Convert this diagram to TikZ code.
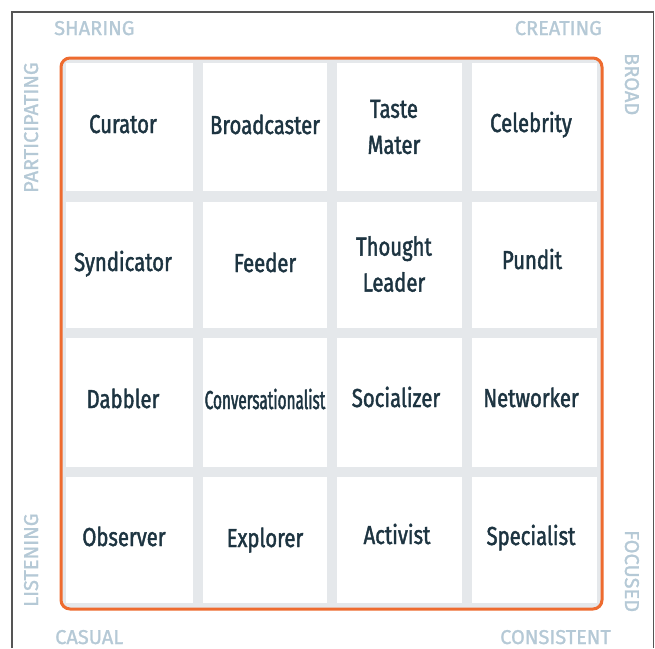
\documentclass[tikz,border=0pt]{standalone}
\usepackage{fontspec}
\setmainfont{Fira Sans}
\newfontfamily\cellfont[FakeStretch=0.78,FakeBold=1.6]{Fira Sans}
\newfontfamily\narrowfont[FakeStretch=0.59,FakeBold=1.6]{Fira Sans}
\newfontfamily\labfont[FakeBold=1.2]{Fira Sans}
\definecolor{framecol}{HTML}{555555}
\definecolor{orng}{HTML}{EE6B2F}
\definecolor{gridgray}{HTML}{E5E8EB}
\definecolor{ink}{HTML}{1D3441}
\definecolor{axiscol}{HTML}{B5C9D6}
\tikzset{
  cell/.style={text=ink, inner sep=0pt, anchor=base, font=\cellfont\fontsize{26}{36}\selectfont},
  cell2/.style={text=ink, inner sep=0pt, anchor=center, align=center, font=\cellfont\fontsize{26}{36}\selectfont},
  axislab/.style={text=axiscol, inner sep=0pt, font=\labfont\fontsize{20}{24}\selectfont},
  whitecell/.style={fill=white, draw=none}
}
\begin{document}
\begin{tikzpicture}[x=1pt,y=-1pt]
\useasboundingbox (0,0) rectangle (655,648);
\fill[white] (0,0) rectangle (655,648);
\draw[framecol, line width=1.2pt] (12,648) -- (12,12) -- (653.5,12) -- (653.5,648);
\draw[orng, line width=3pt, fill=gridgray, rounded corners=9pt] (61,58) rectangle (602,609);
% white cells
\foreach \xa/\xb in {66/193,203/327,337/462,472/597}{
  \foreach \ya/\yb in {63/191,202/328,338/467,477/603}{
    \fill[whitecell] (\xa,\ya) rectangle (\xb,\yb);
  }
}
% row 1
\node[cell] (curator) at (123,133) {Curator};
\node[cell] (broadcaster) at (265,134) {Broadcaster};
\node[cell2] (taste) at (394,127) {Taste\\Mater};
\node[cell] (celebrity) at (531,132) {Celebrity};
% row 2
\node[cell] (syndicator) at (123,271) {Syndicator};
\node[cell] (feeder) at (265,272) {Feeder};
\node[cell2] (thought) at (394,264) {Thought\\Leader};
\node[cell] (pundit) at (532,269) {Pundit};
% row 3
\node[cell] (dabbler) at (123,408) {Dabbler};
\node[cell, font=\narrowfont\fontsize{26}{36}\selectfont] (convers) at (265,409) {Conversationalist};
\node[cell] (socializer) at (396,407) {Socializer};
\node[cell] (networker) at (531,407) {Networker};
% row 4
\node[cell] (observer) at (124,546) {Observer};
\node[cell] (explorer) at (265,547) {Explorer};
\node[cell] (activist) at (397,544) {Activist};
\node[cell] (specialist) at (531,545) {Specialist};
% axis labels
\node[axislab, anchor=base west] (sharing) at (54,35) {SHARING};
\node[axislab, anchor=base east] (creating) at (602,35) {CREATING};
\node[axislab, anchor=base west, rotate=90] (particip) at (38,193) {PARTICIPATING};
\node[axislab, anchor=base west, rotate=90] (listening) at (38,607) {LISTENING};
\node[axislab, anchor=base west, rotate=-90] (broad) at (625,53) {BROAD};
\node[axislab, anchor=base west, rotate=-90] (focused) at (625,530) {FOCUSED};
\node[axislab, anchor=base west] (casual) at (55,644) {CASUAL};
\node[axislab, anchor=base east] (consistent) at (611,644) {CONSISTENT};
\end{tikzpicture}
\end{document}
